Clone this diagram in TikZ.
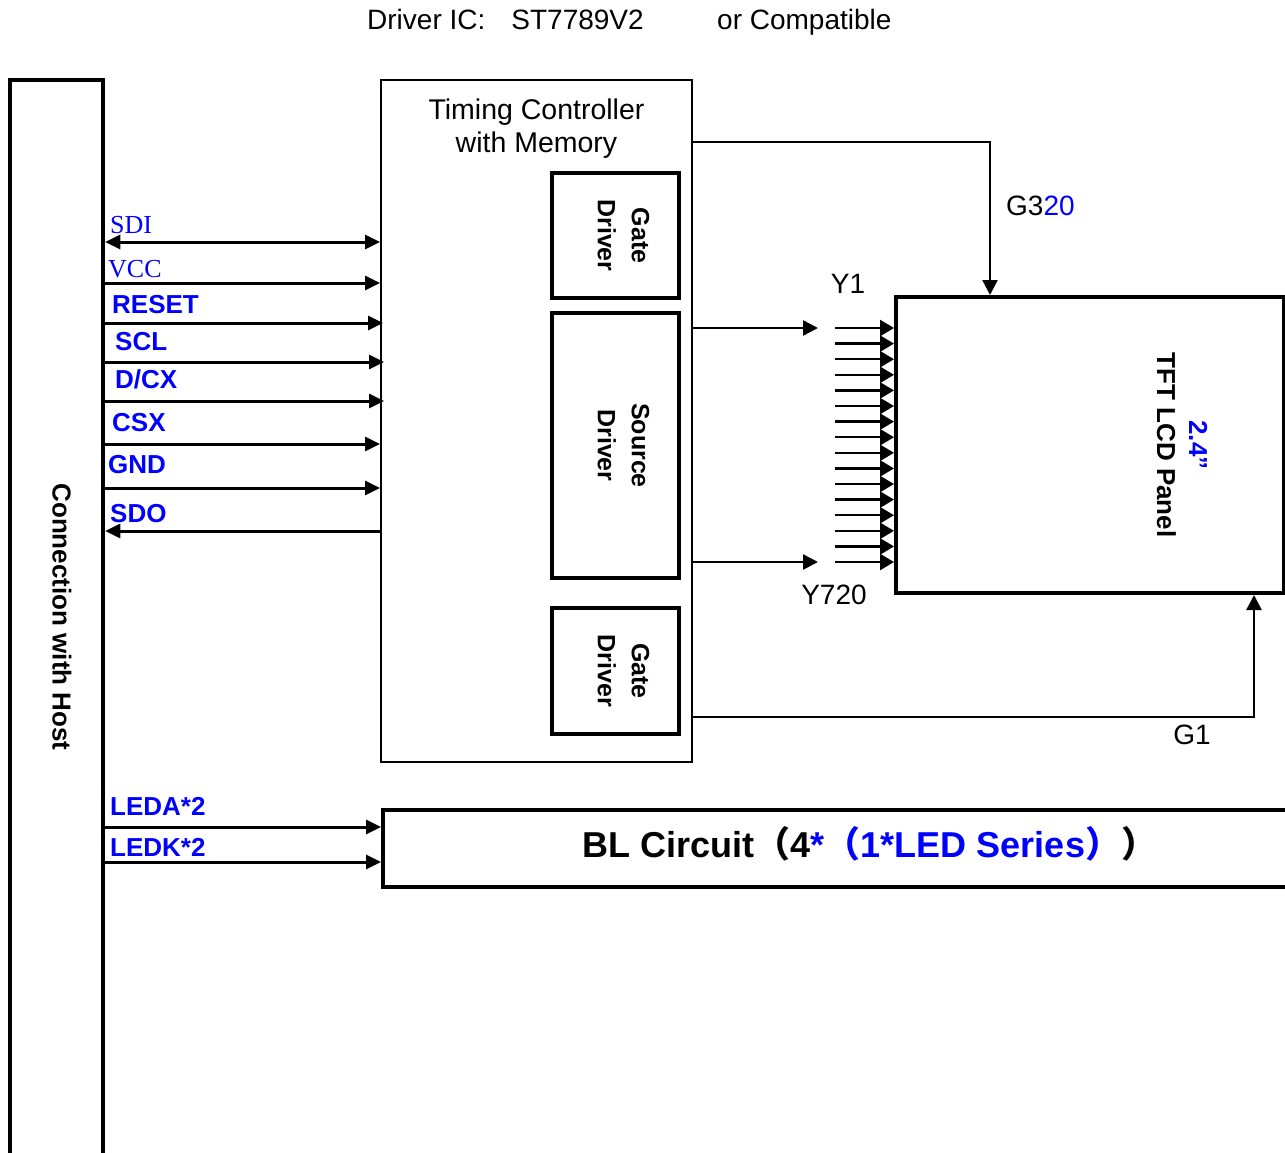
\documentclass[tikz,border=0pt]{standalone}
\usepackage{fontspec}
\setmainfont{Liberation Sans}
\newfontfamily\serifsig{Liberation Serif}
\newfontfamily\cjk{Noto Sans CJK SC}
\usetikzlibrary{arrows.meta,positioning}
\definecolor{sigblue}{HTML}{0000FF}
\tikzset{
  host/.style={draw, line width=4.5pt, minimum width=93pt, minimum height=1120pt, inner sep=0pt},
  ctrl/.style={draw, line width=2pt, minimum width=311pt, minimum height=682pt, inner sep=0pt},
  drv/.style={draw, line width=4pt, minimum height=127pt, inner sep=0pt},
  drvtext/.style={rotate=-90, align=center, inner sep=0pt, yshift=8pt, font=\fontsize{25}{34}\selectfont\bfseries},
  panel/.style={draw, line width=4pt, inner sep=0pt},
  sig/.style={line width=3pt, -{Triangle[length=15pt,width=14pt]}},
  bisig/.style={line width=3pt, {Triangle[length=15pt,width=14pt]}-{Triangle[length=15pt,width=14pt]}},
  wire/.style={line width=2.5pt, -{Triangle[length=15pt,width=15pt]}},
  bus/.style={line width=2.5pt, -{Triangle[length=14pt,width=16pt]}},
  pin/.style={anchor=base west, inner sep=0pt, text=sigblue, font=\fontsize{26}{30}\selectfont\bfseries},
  pinserif/.style={pin, font=\fontsize{26}{30}\selectfont\serifsig},
  plain/.style={inner sep=0pt, font=\fontsize{28}{33}\selectfont},
  rotlabel/.style={rotate=-90, align=center, inner sep=0pt, font=\fontsize{26}{32}\selectfont\bfseries}
}

\begin{document}
\begin{tikzpicture}[x=1pt, y=-1pt]
\useasboundingbox (0,0) rectangle (1285,1153);

% header
\node[plain, anchor=base west] (ic) at (367,30) {Driver IC:\hspace{26pt}ST7789V2};
\node[plain, anchor=base west] (compat) at (717,30) {or Compatible};

% host side
\node[host] (host) at (56.5,640) {};
\node[rotlabel] (hostlbl) at (62,617) {Connection with Host};

% controller and drivers
\node[ctrl] (ctrl) at (536.5,421) {};
\node[plain, align=center, below=20pt of ctrl.north, font=\fontsize{28.5}{33}\selectfont] (ctrltitle) {Timing Controller\\with Memory};
\node[drv, minimum height=125pt, minimum width=127pt] (gtop) at (615.5,235.5) {};
\node[drv, minimum height=265pt, minimum width=127pt] (src) at (615.5,445.5) {};
\node[drv, minimum height=126pt, minimum width=127pt] (gbot) at (615.5,671) {};
\node[drvtext] (gtoptext) at (gtop.center) {Gate\\Driver};
\node[drvtext] (srctext) at (src.center) {Source\\Driver};
\node[drvtext] (gbottext) at (gbot.center) {Gate\\Driver};

% panel and backlight
\node[panel, minimum width=388pt, minimum height=296pt] (lcd) at (1090,445) {};
\node[rotlabel] (lcdlbl) at (1182,445) {\textcolor{sigblue}{2.4”}\\TFT LCD Panel};
\node[panel, minimum width=957pt, minimum height=77pt] (bl) at (861.5,848.5) {};
\node[anchor=base, inner sep=0pt, font=\fontsize{36}{40}\selectfont\bfseries] (bltext) at (870,857)
  {BL Circuit{\cjk （}4\textcolor{sigblue}{*{\cjk （}1*LED Series{\cjk ）}}{\cjk ）}};

% interface pins
\node[pinserif] (lsdi) at (110,233) {SDI};
\node[pinserif] (lvcc) at (108,277) {VCC};
\node[pin] (lreset) at (112,313) {RESET};
\node[pin] (lscl) at (115,350) {SCL};
\node[pin] (ldcx) at (115,388) {D/CX};
\node[pin] (lcsx) at (112,431) {CSX};
\node[pin] (lgnd) at (108,473) {GND};
\node[pin] (lsdo) at (110,522) {SDO};
\node[pin] (lleda) at (110,815) {LEDA*2};
\node[pin] (lledk) at (110,856) {LEDK*2};

\draw[bisig] (host.east |- 0,242) -- (ctrl.west |- 0,242);
\draw[sig] (host.east |- 0,283) -- (ctrl.west |- 0,283);
\draw[sig] (host.east |- 0,323) -- ([xshift=3pt]ctrl.west |- 0,323);
\draw[sig] (host.east |- 0,362) -- ([xshift=4pt]ctrl.west |- 0,362);
\draw[sig] (host.east |- 0,401) -- ([xshift=4pt]ctrl.west |- 0,401);
\draw[sig] (host.east |- 0,444) -- (ctrl.west |- 0,444);
\draw[sig] (host.east |- 0,488) -- (ctrl.west |- 0,488);
\draw[sig] (ctrl.west |- 0,531) -- (host.east |- 0,531);
\draw[sig] (host.east |- 0,827) -- (bl.west |- 0,827);
\draw[sig] (host.east |- 0,862) -- (bl.west |- 0,862);

% gate and source lines
\draw[wire] (ctrl.east |- 0,142) -| (lcd.north -| 990,0);
\draw[wire] (ctrl.east |- 0,717) -| (lcd.south -| 1254,0);
\draw[wire] (ctrl.east |- 0,328) -- (818,328);
\draw[wire] (ctrl.east |- 0,562) -- (818,562);
\foreach \i in {0,...,15}{
  \pgfmathsetmacro\yy{328+15.6*\i}
  \draw[bus] (835,\yy) -- (lcd.west |- 0,\yy);
}
\node[plain, anchor=base west] (g320) at (1006,215) {G3\textcolor{sigblue}{20}};
\node[plain, anchor=base] (y1) at (848,293) {Y1};
\node[plain, anchor=base] (y720) at (834,604) {Y720};
\node[plain, anchor=base] (g1) at (1192,744) {G1};
\end{tikzpicture}
\end{document}
